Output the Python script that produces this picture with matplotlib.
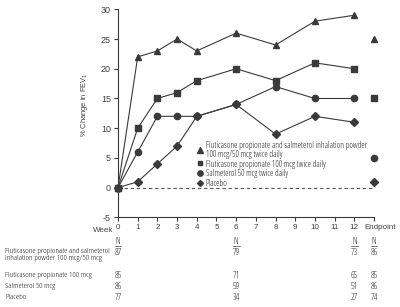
import matplotlib
matplotlib.use('Agg')
import matplotlib.pyplot as plt
import matplotlib.transforms as mtransforms
from matplotlib.lines import Line2D

# data
weeks = [0, 1, 2, 3, 4, 6, 8, 10, 12]
endpoint_x = 13
fsc = [0, 22, 23, 25, 23, 26, 24, 28, 29]
fp = [0, 10, 15, 16, 18, 20, 18, 21, 20]
salm = [0, 6, 12, 12, 12, 14, 17, 15, 15]
placebo = [0, 1, 4, 7, 12, 14, 9, 12, 11]
endpoints = [25, 15, 5, 1]

legend_labels = [
    "Fluticasone propionate and salmeterol inhalation powder\n100 mcg/50 mcg twice daily",
    "Fluticasone propionate 100 mcg twice daily",
    "Salmeterol 50 mcg twice daily",
    "Placebo",
]
markers = ['^', 's', 'o', 'D']
msizes = [4.5, 4.0, 4.5, 3.6]

xtick_pos = list(range(13)) + [endpoint_x]
xtick_labels = [str(i) for i in range(13)] + ['Endpoint']

row_labels = [
    "Fluticasone propionate and salmeterol\ninhalation powder 100 mcg/50 mcg",
    "Fluticasone propionate 100 mcg",
    "Salmeterol 50 mcg",
    "Placebo",
]
n_cols = [0, 6, 12, endpoint_x]
n_values = [
    [87, 79, 73, 86],
    [85, 71, 65, 85],
    [86, 59, 51, 86],
    [77, 34, 27, 74],
]

W, H = 400, 307
gray = '#3a3a3a'
txt = '#404040'
dark = '#202020'
plt.rcParams['font.family'] = ['Liberation Sans', 'DejaVu Sans']
plt.rcParams['axes.unicode_minus'] = False
# condensed face for the small texts
cond = dict(family='Open Sans', stretch='condensed', weight=300)

fig = plt.figure(figsize=(4, 3.07), dpi=100)
left, right, top, bottom = 118, 374, 9.3, 217.4
ax = fig.add_axes([left / W, 1 - bottom / H, (right - left) / W, (bottom - top) / H])

series = [fsc, fp, salm, placebo]
for vals, m, ms in zip(series, markers, msizes):
    ax.plot(weeks, vals, color=gray, lw=0.8, marker=m, ms=ms,
            mfc=gray, mec=gray, clip_on=False, zorder=3)
for val, m, ms in zip(endpoints, markers, msizes):
    ax.plot([endpoint_x], [val], ls='none', marker=m, ms=ms,
            mfc=gray, mec=gray, clip_on=False, zorder=3)

ax.plot([0, endpoint_x], [0, 0], color='#555555', lw=0.8, ls=(0, (3, 2.5)), zorder=1)

ax.set_xlim(0, endpoint_x)
ax.set_ylim(-5, 30)
ax.set_yticks(range(-5, 31, 5))
ax.set_xticks(xtick_pos)
ax.set_xticklabels(xtick_labels)
for s in ['top', 'right']:
    ax.spines[s].set_visible(False)
for s in ['left', 'bottom']:
    ax.spines[s].set_color(gray)
    ax.spines[s].set_linewidth(0.8)
ax.tick_params(axis='both', colors=gray, labelcolor=txt, labelsize=6.5,
               length=3, width=0.8, pad=2)
ax.tick_params(axis='x', labelsize=5.8)
# Endpoint label sits a bit right of its tick
ep = ax.get_xticklabels()[-1]
ep.set_transform(ep.get_transform() + mtransforms.ScaledTranslation(6 / 100, 0, fig.dpi_scale_trans))

ax.set_ylabel('% Change in FEV$_1$', fontsize=5.4, color=txt)
ax.yaxis.set_label_coords(-0.11, 0.54)

# legend
handles = [Line2D([], [], ls='none', marker=m, ms=ms * 0.85, mfc=gray, mec=gray)
           for m, ms in zip(markers, msizes)]
leg = fig.legend(handles, legend_labels, loc='upper left',
                 bbox_to_anchor=(197 / W, 1 - 141 / H), frameon=False,
                 prop=dict(size=6.2, **cond), handlelength=0.6, handletextpad=0.4,
                 labelspacing=0.1, borderpad=0, borderaxespad=0)
for t in leg.get_texts():
    t.set_color(dark)
    t.set_linespacing(0.95)

# Week label
fig.text(113 / W, 1 - 230 / H, 'Week', ha='right', va='center',
         fontsize=5.8, color=txt)

# N table
trans = mtransforms.blended_transform_factory(ax.transData, fig.transFigure)
for c in n_cols:
    fig.text(c, 1 - 241 / H, 'N', transform=trans, ha='center', va='center',
             fontsize=6.3, color=dark, **cond)
    fig.add_artist(Line2D([c - 0.17, c + 0.17], [1 - 245.5 / H, 1 - 245.5 / H],
                          transform=trans, color=txt, lw=0.5))

row_y = [252.5, 275.5, 286.5, 297.5]
for lab, y in zip(row_labels, row_y):
    if '\n' in lab:
        fig.text(5 / W, 1 - (y - 4.8) / H, lab, ha='left', va='top',
                 fontsize=6.0, color=dark, linespacing=1.15, **cond)
    else:
        fig.text(5 / W, 1 - y / H, lab, ha='left', va='center',
                 fontsize=6.0, color=dark, **cond)
for vals, y in zip(n_values, row_y):
    for c, v in zip(n_cols, vals):
        fig.text(c, 1 - y / H, str(v), transform=trans, ha='center', va='center',
                 fontsize=6.5, color=dark, **cond)

fig.savefig('out.png', dpi=100)
